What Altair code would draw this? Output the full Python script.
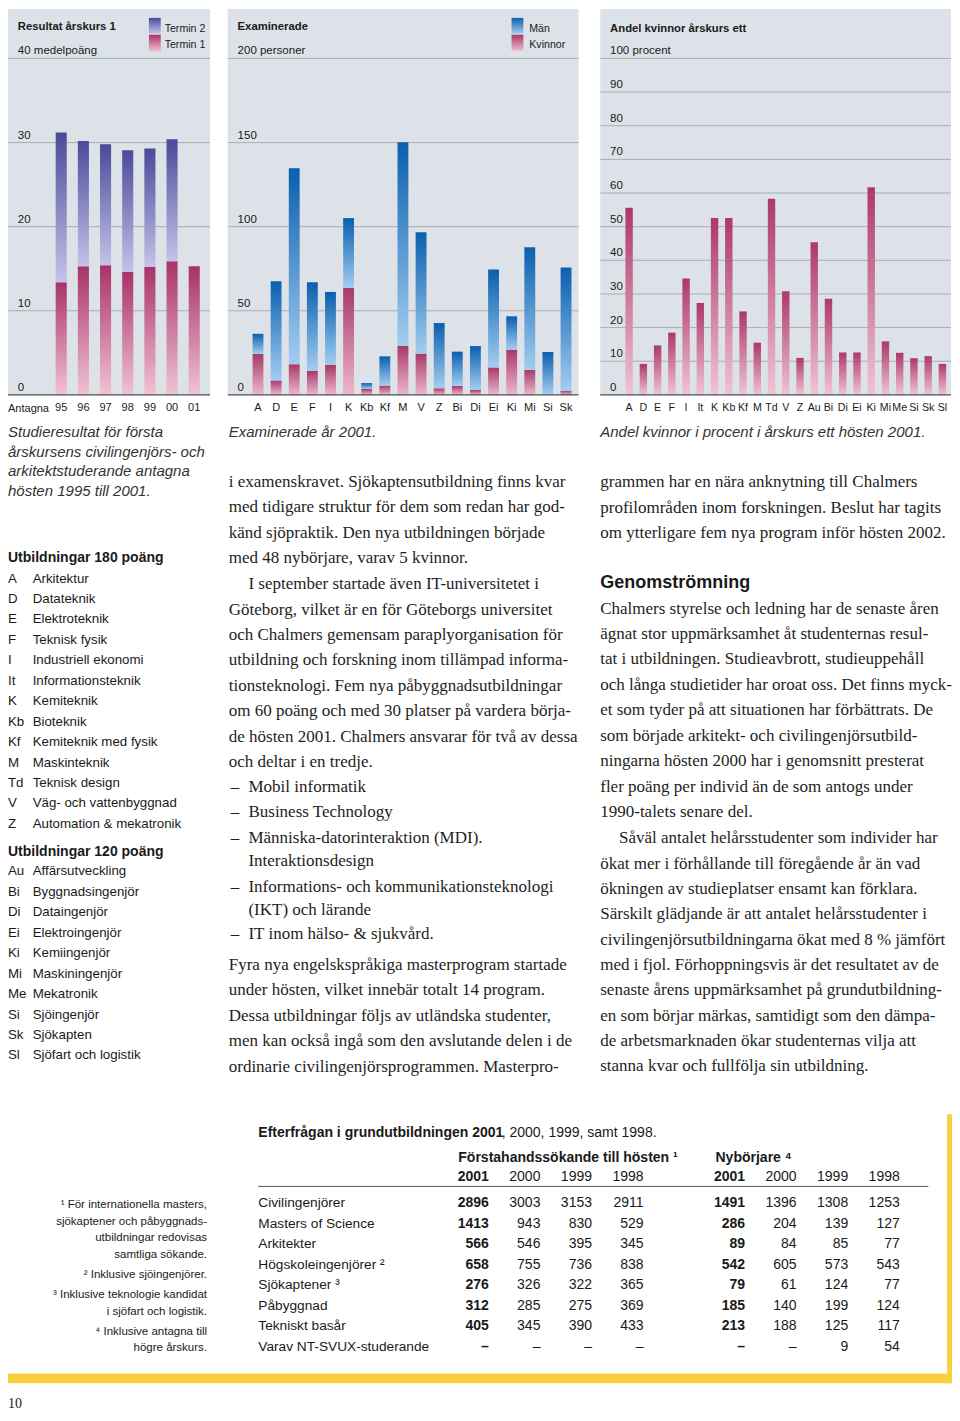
import altair as alt
import pandas as pd

# ---------------- chart data ----------------
years = ["95", "96", "97", "98", "99", "00", "01"]
termin1 = [13.4, 15.3, 15.4, 14.6, 15.2, 15.9, 15.3]
termin2 = [17.8, 14.9, 14.4, 14.5, 14.1, 14.5, None]
ticks1 = [0, 10, 20, 30, 40]
ticklabels1 = ["0", "10", "20", "30", "40 medelpoäng"]

exam_prog = ["A", "D", "E", "F", "I", "K", "Kb", "Kf", "M", "V", "Z", "Bi", "Di", "Ei", "Ki", "Mi", "Si", "Sk"]
exam_kvinnor = [24.3, 8.6, 18.2, 14.3, 17.8, 63.7, 3.5, 5.5, 29.2, 24.5, 3.9, 5.3, 2.9, 16.3, 26.9, 14.9, 0.0, 2.5]
exam_man = [12.0, 59.0, 116.5, 52.7, 43.4, 41.4, 3.5, 17.4, 121.0, 72.2, 38.8, 20.4, 26.1, 58.2, 19.8, 72.9, 25.5, 73.2]
ticks2 = [0, 50, 100, 150, 200]
ticklabels2 = ["0", "50", "100", "150", "200 personer"]

andel_prog = ["A", "D", "E", "F", "I", "It", "K", "Kb", "Kf", "M", "Td", "V", "Z",
              "Au", "Bi", "Di", "Ei", "Ki", "Mi", "Me", "Si", "Sk", "Sl"]
andel_kvinnor = [55.6, 9.2, 14.7, 18.5, 34.6, 27.3, 52.6, 52.6, 24.8, 15.5, 58.3, 30.8, 11.0,
                 45.4, 28.6, 12.6, 12.6, 61.7, 15.9, 12.5, 10.9, 11.5, 9.2]
ticks3 = [0, 10, 20, 30, 40, 50, 60, 70, 80, 90, 100]
ticklabels3 = ["0", "10", "20", "30", "40", "50", "60", "70", "80", "90", "100 procent"]

# ---------------- table data ----------------
table_rows = ["Civilingenjörer", "Masters of Science", "Arkitekter", "Högskoleingenjörer ²",
              "Sjökaptener ³", "Påbyggnad", "Tekniskt basår", "Varav NT-SVUX-studerande"]
col_years = ["2001", "2000", "1999", "1998"]
sok_2001 = [2896, 1413, 566, 658, 276, 312, 405, None]
sok_2000 = [3003, 943, 546, 755, 326, 285, 345, None]
sok_1999 = [3153, 830, 395, 736, 322, 275, 390, None]
sok_1998 = [2911, 529, 345, 838, 365, 369, 433, None]
nyb_2001 = [1491, 286, 89, 542, 79, 185, 213, None]
nyb_2000 = [1396, 204, 84, 605, 61, 140, 188, None]
nyb_1999 = [1308, 139, 85, 573, 124, 199, 125, 9]
nyb_1998 = [1253, 127, 77, 543, 77, 124, 117, 54]

# ---------------- legend list ----------------
prog180_abbr = ["A", "D", "E", "F", "I", "It", "K", "Kb", "Kf", "M", "Td", "V", "Z"]
prog180_name = ["Arkitektur", "Datateknik", "Elektroteknik", "Teknisk fysik", "Industriell ekonomi",
                "Informationsteknik", "Kemiteknik", "Bioteknik", "Kemiteknik med fysik", "Maskinteknik",
                "Teknisk design", "Väg- och vattenbyggnad", "Automation & mekatronik"]
prog120_abbr = ["Au", "Bi", "Di", "Ei", "Ki", "Mi", "Me", "Si", "Sk", "Sl"]
prog120_name = ["Affärsutveckling", "Byggnadsingenjör", "Dataingenjör", "Elektroingenjör", "Kemiingenjör",
                "Maskiningenjör", "Mekatronik", "Sjöingenjör", "Sjökapten", "Sjöfart och logistik"]

# ---------------- styling ----------------
SANS = "Liberation Sans"
SERIF = "Liberation Serif"
PANEL = "#dde2e8"
GRID = "#a8adb4"
BASE = "#4d4d4d"
INK = "#1a1a1a"
YEL = "#f8cf3e"
T2_TOP, T2_BOT = "#4a4a99", "#c3c3ea"
T1_TOP, T1_BOT = "#a8326a", "#f0c3d2"
M_TOP, M_BOT = "#0a5fae", "#a2cdf0"
K_TOP, K_BOT = "#a8386a", "#ecb8ca"
A_TOP, A_BOT = "#ad386b", "#efc4d3"

W, H = 944, 1404
XK = W / 958.0
YK = H / 1419.0
one = pd.DataFrame({"k": [0]})


def X(v):
    return round((v - 2) * XK, 2)


def Y(v):
    return round((v - 2) * YK, 2)


def grad(top, bottom):
    return {"gradient": "linear", "x1": 0, "x2": 0, "y1": 1, "y2": 0,
            "stops": [{"offset": 0, "color": bottom}, {"offset": 1, "color": top}]}


def box(x0, x1, y0, y1, fill):
    return alt.Chart(one).mark_rect(fill=fill).encode(
        x=alt.value(X(x0)), x2=alt.value(X(x1)), y=alt.value(Y(y0)), y2=alt.value(Y(y1)))


def hline(x0, x1, y, color, w=1):
    return alt.Chart(one).mark_rule(color=color, strokeWidth=w).encode(
        x=alt.value(X(x0)), x2=alt.value(X(x1)), y=alt.value(Y(y)))


def text(lines, x, y, size=13, font=SANS, weight="normal", style="normal",
         align="left", lh=None, color=INK):
    kw = dict(align=align, baseline="alphabetic", fontSize=size, font=font,
              fontWeight=weight, fontStyle=style, color=color)
    if lh:
        kw["lineHeight"] = round(lh * YK, 2)
    return alt.Chart(one).mark_text(**kw).encode(
        x=alt.value(X(x)), y=alt.value(round(Y(y) + 0.35 * size, 2)), text=alt.value(lines))


def yscale(ymax):
    return alt.Scale(domain=[0, ymax], range=[Y(393), Y(53)], nice=False, zero=False)


def frame(x0, x1, ys, ticks, labels, label_x):
    tdf = pd.DataFrame({"v": ticks, "lab": labels})
    grid = alt.Chart(tdf).transform_filter("datum.v > 0").mark_rule(color=GRID, strokeWidth=1).encode(
        y=alt.Y("v:Q", scale=ys, axis=None), x=alt.value(X(x0)), x2=alt.value(X(x1)))
    labs = alt.Chart(tdf).mark_text(align="left", baseline="alphabetic", dy=-4, fontSize=11.5,
                                    font=SANS, color=INK).encode(
        y=alt.Y("v:Q", scale=ys, axis=None), x=alt.value(X(label_x)), text="lab:N")
    return [box(x0, x1, 3, 393, PANEL), grid, labs]


def xlabels(cats, xs, size=11):
    return alt.Chart(pd.DataFrame({"c": cats})).mark_text(
        align="center", baseline="middle", fontSize=size, font=SANS, color=INK).encode(
        x=alt.X("c:N", scale=xs, axis=None), y=alt.value(Y(406)), text="c:N")


# ---------------- chart 1: Resultat årskurs 1 ----------------
ys1 = yscale(40)
xs1 = alt.Scale(type="band", domain=years, range=[X(44.75), X(202.25)], paddingInner=0.5, paddingOuter=0.25)
d1 = pd.DataFrame({"year": years, "t1": termin1, "t2": termin2})
f1 = frame(2, 207, ys1, ticks1, ticklabels1, 12)
b1a = alt.Chart(d1).transform_calculate(zero="0").mark_bar(fill=grad(T1_TOP, T1_BOT)).encode(
    x=alt.X("year:N", scale=xs1, axis=None), y=alt.Y("t1:Q", scale=ys1, axis=None), y2=alt.Y2("zero"))
b1b = alt.Chart(d1).transform_filter("isValid(datum.t2)").transform_calculate(
    top="datum.t1 + datum.t2").mark_bar(fill=grad(T2_TOP, T2_BOT)).encode(
    x=alt.X("year:N", scale=xs1, axis=None), y=alt.Y("top:Q", scale=ys1, axis=None), y2=alt.Y2("t1"))
base1 = alt.Chart(pd.DataFrame({"v": [0]})).mark_rule(color=BASE, strokeWidth=1.4).encode(
    y=alt.Y("v:Q", scale=ys1, axis=None), x=alt.value(X(2)), x2=alt.value(X(207)))
chart1 = alt.layer(f1[0], f1[1], b1a, b1b, base1, f1[2], xlabels(years, xs1))

# ---------------- chart 2: Examinerade ----------------
ys2 = yscale(200)
xs2 = alt.Scale(type="band", domain=exam_prog, range=[X(246.5), X(577.5)], paddingInner=0.4, paddingOuter=0.2)
d2 = pd.DataFrame({"p": exam_prog, "kv": exam_kvinnor, "man": exam_man})
f2 = frame(225, 581, ys2, ticks2, ticklabels2, 235)
b2a = alt.Chart(d2).transform_calculate(zero="0").mark_bar(fill=grad(K_TOP, K_BOT)).encode(
    x=alt.X("p:N", scale=xs2, axis=None), y=alt.Y("kv:Q", scale=ys2, axis=None), y2=alt.Y2("zero"))
b2b = alt.Chart(d2).transform_calculate(top="datum.kv + datum.man").mark_bar(fill=grad(M_TOP, M_BOT)).encode(
    x=alt.X("p:N", scale=xs2, axis=None), y=alt.Y("top:Q", scale=ys2, axis=None), y2=alt.Y2("kv"))
base2 = alt.Chart(pd.DataFrame({"v": [0]})).mark_rule(color=BASE, strokeWidth=1.4).encode(
    y=alt.Y("v:Q", scale=ys2, axis=None), x=alt.value(X(225)), x2=alt.value(X(581)))
chart2 = alt.layer(f2[0], f2[1], b2a, b2b, base2, f2[2], xlabels(exam_prog, xs2))

# ---------------- chart 3: Andel kvinnor ----------------
ys3 = yscale(100)
xs3 = alt.Scale(type="band", domain=andel_prog, range=[X(625.1), X(957.5)], paddingInner=0.48, paddingOuter=0.24)
d3 = pd.DataFrame({"p": andel_prog, "v3": andel_kvinnor})
f3 = frame(603, 959, ys3, ticks3, ticklabels3, 613)
b3 = alt.Chart(d3).transform_calculate(zero="0").mark_bar(fill=grad(A_TOP, A_BOT)).encode(
    x=alt.X("p:N", scale=xs3, axis=None), y=alt.Y("v3:Q", scale=ys3, axis=None), y2=alt.Y2("zero"))
base3 = alt.Chart(pd.DataFrame({"v": [0]})).mark_rule(color=BASE, strokeWidth=1.4).encode(
    y=alt.Y("v:Q", scale=ys3, axis=None), x=alt.value(X(603)), x2=alt.value(X(959)))
chart3 = alt.layer(f3[0], f3[1], b3, base3, f3[2], xlabels(andel_prog, xs3, 10.6))

# ---------------- table ----------------
rows_scale = alt.Scale(type="point", domain=table_rows, range=[Y(1210), Y(1355)], padding=0)


def table_group(cols, x_first, x_last):
    recs = []
    for i, (yr, vals) in enumerate(zip(col_years, cols)):
        for r, v in zip(table_rows, vals):
            recs.append({"yr": yr, "row": r, "s": "–" if v is None else str(v), "b": i == 0})
    df = pd.DataFrame(recs)
    xs = alt.Scale(type="point", domain=col_years, range=[X(x_first), X(x_last)], padding=0)
    layers = []
    for flt, wt in (("datum.b", "bold"), ("!datum.b", "normal")):
        layers.append(alt.Chart(df).transform_filter(flt).mark_text(
            align="right", baseline="middle", fontSize=14, font=SANS, fontWeight=wt, color=INK).encode(
            x=alt.X("yr:N", scale=xs, axis=None), y=alt.Y("row:N", scale=rows_scale, axis=None), text="s:N"))
    hdr = pd.DataFrame({"yr": col_years, "b": [True, False, False, False]})
    for flt, wt in (("datum.b", "bold"), ("!datum.b", "normal")):
        layers.append(alt.Chart(hdr).transform_filter(flt).mark_text(
            align="right", baseline="middle", fontSize=14, font=SANS, fontWeight=wt, color=INK).encode(
            x=alt.X("yr:N", scale=xs, axis=None), y=alt.value(Y(1183)), text="yr:N"))
    return alt.layer(*layers)


row_labels = alt.Chart(pd.DataFrame({"row": table_rows})).mark_text(
    align="left", baseline="middle", fontSize=13.7, font=SANS, color=INK).encode(
    x=alt.value(X(256)), y=alt.Y("row:N", scale=rows_scale, axis=None), text="row:N")
group_sok = table_group([sok_2001, sok_2000, sok_1999, sok_1998], 490, 647)
group_nyb = table_group([nyb_2001, nyb_2000, nyb_1999, nyb_1998], 750, 907)

# ---------------- texts ----------------
SER = dict(size=17, font=SERIF, color="#1e1e1e")
texts = [
    # chart headers and legends
    text("Resultat årskurs 1", 12, 20, size=11.3, weight="bold"),
    box(145, 157, 12, 28, grad(T2_TOP, T2_BOT)),
    box(145, 157, 29, 46, grad(T1_TOP, T1_BOT)),
    text("Termin 2", 161, 23, size=10.6),
    text("Termin 1", 161, 39, size=10.6),
    text("Antagna", 2, 406, size=11),
    text("Examinerade", 235, 20, size=11.3, weight="bold"),
    box(513, 525, 12, 28, grad(M_TOP, M_BOT)),
    box(513, 525, 29, 45, grad(K_TOP, K_BOT)),
    text("Män", 531, 23, size=10.6),
    text("Kvinnor", 531, 39, size=10.6),
    text("Andel kvinnor årskurs ett", 613, 22, size=11.3, weight="bold"),
    # captions
    text(["Studieresultat för första", "årskursens civilingenjörs- och",
          "arkitektstuderande antagna", "hösten 1995 till 2001."], 2, 430, size=15, style="italic",
         lh=20, color="#333333"),
    text("Examinerade år 2001.", 226, 430, size=15, style="italic", color="#333333"),
    text("Andel kvinnor i procent i årskurs ett hösten 2001.", 603, 430, size=15, style="italic",
         color="#333333"),
    # left program list
    text("Utbildningar 180 poäng", 2, 557, size=14, weight="bold"),
    text(prog180_abbr, 2, 578, size=13.3, lh=20.67),
    text(prog180_name, 27, 578, size=13.3, lh=20.67),
    text("Utbildningar 120 poäng", 2, 854, size=14, weight="bold"),
    text(prog120_abbr, 2, 874, size=13.3, lh=20.67),
    text(prog120_name, 27, 874, size=13.3, lh=20.67),
    # middle column
    text(["i examenskravet. Sjökaptensutbildning finns kvar",
          "med tidigare struktur för dem som redan har god-",
          "känd sjöpraktik. Den nya utbildningen började",
          "med 48 nybörjare, varav 5 kvinnor."], 226, 480, lh=25.75, **SER),
    text("I september startade även IT-universitetet i", 246, 583, **SER),
    text(["Göteborg, vilket är en för Göteborgs universitet",
          "och Chalmers gemensam paraplyorganisation för",
          "utbildning och forskning inom tillämpad informa-",
          "tionsteknologi. Fem nya påbyggnadsutbildningar",
          "om 60 poäng och med 30 platser på vardera börja-",
          "de hösten 2001. Chalmers ansvarar för två av dessa",
          "och deltar i en tredje."], 226, 609, lh=25.67, **SER),
    text("–", 228, 788, **SER),
    text("Mobil informatik", 246, 788, **SER),
    text("–", 228, 814, **SER),
    text("Business Technology", 246, 814, **SER),
    text("–", 228, 840, **SER),
    text(["Människa-datorinteraktion (MDI).", "Interaktionsdesign"], 246, 840, lh=23.5, **SER),
    text("–", 228, 889, **SER),
    text(["Informations- och kommunikationsteknologi", "(IKT) och lärande"], 246, 889, lh=23.5, **SER),
    text("–", 228, 937, **SER),
    text("IT inom hälso- & sjukvård.", 246, 937, **SER),
    text(["Fyra nya engelskspråkiga masterprogram startade",
          "under hösten, vilket innebär totalt 14 program.",
          "Dessa utbildningar följs av utländska studenter,",
          "men kan också ingå som den avslutande delen i de",
          "ordinarie civilingenjörsprogrammen. Masterpro-"], 226, 968, lh=25.75, **SER),
    # right column
    text(["grammen har en nära anknytning till Chalmers",
          "profilområden inom forskningen. Beslut har tagits",
          "om ytterligare fem nya program inför hösten 2002."], 603, 480, lh=25.9, **SER),
    text("Genomströmning", 603, 582, size=18, weight="bold"),
    text(["Chalmers styrelse och ledning har de senaste åren",
          "ägnat stor uppmärksamhet åt studenternas resul-",
          "tat i utbildningen. Studieavbrott, studieuppehåll",
          "och långa studietider har oroat oss. Det finns myck-",
          "et som tyder på att situationen har förbättrats. De",
          "som började arkitekt- och civilingenjörsutbild-",
          "ningarna hösten 2000 har i genomsnitt presterat",
          "fler poäng per individ än de som antogs under",
          "1990-talets senare del."], 603, 608, lh=25.75, **SER),
    text("Såväl antalet helårsstudenter som individer har", 622, 840, **SER),
    text(["ökat mer i förhållande till föregående år än vad",
          "ökningen av studieplatser ensamt kan förklara.",
          "Särskilt glädjande är att antalet helårsstudenter i",
          "civilingenjörsutbildningarna ökat med 8 % jämfört",
          "med i fjol. Förhoppningsvis är det resultatet av de",
          "senaste årens uppmärksamhet på grundutbildning-",
          "en som börjar märkas, samtidigt som den dämpa-",
          "de arbetsmarknaden ökar studenternas vilja att",
          "stanna kvar och fullfölja sin utbildning."], 603, 866, lh=25.6, **SER),
    # table texts
    text("Efterfrågan i grundutbildningen 2001", 256, 1138, size=14, weight="bold"),
    text(", 2000, 1999, samt 1998.", 503, 1138, size=14),
    text("Förstahandssökande till hösten ¹", 459, 1163, size=14, weight="bold"),
    text("Nybörjare ⁴", 720, 1163, size=14, weight="bold"),
    hline(256, 936, 1193, "#555555", 1),
    # footnotes
    text(["¹ För internationella masters,", "sjökaptener och påbyggnads-",
          "utbildningar redovisas", "samtliga sökande."], 204, 1211, size=11.5, align="right", lh=16.7),
    text("² Inklusive sjöingenjörer.", 204, 1281, size=11.5, align="right"),
    text(["³ Inklusive teknologie kandidat", "i sjöfart och logistik."], 204, 1302, size=11.5,
         align="right", lh=16.7),
    text(["⁴ Inklusive antagna till", "högre årskurs."], 204, 1339, size=11.5, align="right", lh=16.7),
    # yellow frame
    box(2, 960, 1382, 1392, YEL),
    box(955, 960, 1120, 1392, YEL),
    text("10", 2, 1412, size=14, font=SERIF),
]

chart = alt.layer(
    chart1, chart2, chart3, row_labels, group_sok, group_nyb, *texts
).resolve_scale(
    x="independent", y="independent"
).properties(
    width=W, height=H, padding=0, autosize=alt.AutoSizeParams(type="none"),
    background="white"
).configure_view(stroke="transparent")

chart.save("out.html", embed_options={"renderer": "svg", "actions": False})
